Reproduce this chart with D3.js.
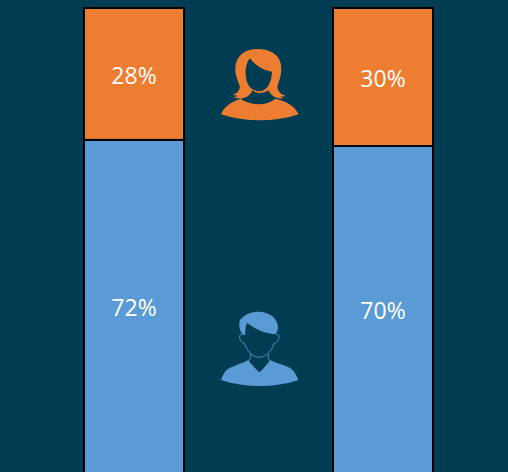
<!DOCTYPE html>
<html><head><meta charset="utf-8">
<script src="https://cdnjs.cloudflare.com/ajax/libs/d3/7.8.5/d3.min.js"></script>
<style>html,body{margin:0;padding:0;background:#003d53;overflow:hidden}svg{display:block}</style>
</head><body><svg id="c" width="508" height="472"></svg>
<script>
const groups = ["A", "B"];
const femaleValues = [28, 29.3];
const maleValues = [72, 70.7];
const femaleLabels = ["28%", "30%"];
const maleLabels = ["72%", "70%"];
const colors = {female: "#ed7d31", male: "#5b9bd5"};

const svg = d3.select("#c");
const x = d3.scalePoint().domain(groups).range([134, 383]);
const y = d3.scaleLinear().domain([0, 100]).range([8, 479]);
const barW = 100;

groups.forEach((g, i) => {
  const f = femaleValues[i], m = maleValues[i];
  const bar = svg.append("g");
  bar.append("rect").attr("x", x(g) - barW / 2).attr("y", y(f)).attr("width", barW)
    .attr("height", y(f + m) - y(f)).attr("fill", colors.male).attr("stroke", "#000").attr("stroke-width", 2);
  bar.append("rect").attr("x", x(g) - barW / 2).attr("y", y(0)).attr("width", barW)
    .attr("height", y(f) - y(0)).attr("fill", colors.female).attr("stroke", "#000").attr("stroke-width", 2);
  const tx = (t, yy) => bar.append("text").attr("x", x(g)).attr("y", yy).attr("text-anchor", "middle")
    .attr("dominant-baseline", "central").attr("fill", "#fff")
    .attr("font-family", "'Open Sans',sans-serif").attr("font-size", 23).text(t);
  tx(femaleLabels[i], y(f / 2) + 1);
  tx(maleLabels[i], y(f + m / 2) - 2.5);
});

const womanIcon = "M170 42C205 42 238 55 243 90C247 115 238 135 232 155C234 172 245 178 258 183L240 185L252 189C235 193 216 188 205 166C198 172 190 174 180 174C170 174 164 172 157 166C152 180 140 190 122 191L100 187L113 183L98 179C110 176 118 168 120 155C110 130 102 110 108 85C115 57 140 42 170 42ZM150 70C140 82 136 100 137 120C138 145 150 168 180 169C203 166 215 140 216 110C190 106 165 92 150 70ZM122 192C140 203 160 208 175 208C195 208 212 202 226 191C255 198 283 210 296 238C225 262 135 262 63 238C75 210 100 198 122 192Z";
const manIcon = "M175 35C208 35 235 55 234 85C233 92 230 98 227 102C205 102 165 90 141 68C136 80 135 92 136 104L128 104C118 90 115 75 120 60C135 42 155 35 175 35ZM144 180C155 195 168 207 178 217C190 207 200 195 210 180C235 192 268 198 280 212C288 222 292 232 295 240C225 264 135 264 63 240C68 228 72 218 80 210C95 198 125 192 144 180Z";
const manLines = ["M128 104C122 102 118 104 119 112C120 122 126 130 134 130C140 150 155 171 178 172C201 171 216 150 222 130C230 130 236 122 237 112C238 104 234 102 228 104",
  "M151 162C154 172 152 178 144 183", "M206 162C203 172 205 178 212 183"];
const iconMap = d3.scaleLinear().domain([0, 3]).range([0, 1]);

const woman = svg.append("g").attr("transform", `translate(200,35) scale(${iconMap(1)})`);
woman.append("path").attr("d", womanIcon).attr("fill", colors.female).attr("fill-rule", "evenodd");

const man = svg.append("g").attr("transform", `translate(200,300) scale(${iconMap(1)})`);
man.append("path").attr("d", manIcon).attr("fill", colors.male);
man.selectAll("path.l").data(manLines).join("path").attr("class", "l").attr("d", d => d)
  .attr("fill", "none").attr("stroke", colors.male).attr("stroke-width", 2.5);
</script></body></html>
